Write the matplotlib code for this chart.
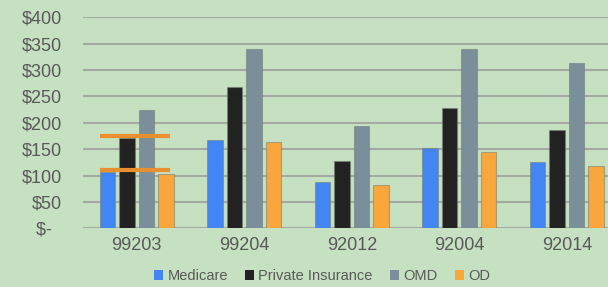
import matplotlib
matplotlib.use("Agg")
import matplotlib.pyplot as plt
import numpy as np
from matplotlib.patches import Patch

codes = ["99203", "99204", "92012", "92004", "92014"]
series = ["Medicare", "Private Insurance", "OMD", "OD"]
medicare = [107, 168, 87, 152, 126]
private_ins = [171, 267, 127, 228, 186]
omd = [224, 339, 194, 339, 313]
od = [103, 164, 83, 144, 119]
ref_lines_99203 = [175, 110]
yticks = [0, 50, 100, 150, 200, 250, 300, 350, 400]
ytick_labels = ["$-  ", "$50", "$100", "$150", "$200", "$250", "$300", "$350", "$400"]

colors = ["#4285f4", "#222222", "#7a8f9a", "#f9a63c"]
bg = "#c6e1c1"
text_col = "#595959"

plt.rcParams["font.family"] = ["Liberation Sans", "DejaVu Sans"]

fig = plt.figure(figsize=(6.08, 2.87), dpi=100, facecolor=bg)
ax = fig.add_axes([83/608, 1-228.3/287, 1-83/608, (228.3-17.3)/287])
ax.set_facecolor(bg)

x = np.arange(len(codes))
pitch = 0.181
width = 0.144
data = [medicare, private_ins, omd, od]
for i, (vals, c) in enumerate(zip(data, colors)):
    ax.bar(x + (i - 1.5) * pitch, vals, width, color=c, zorder=3,
           edgecolor=(0.45, 0.5, 0.45, 0.55), linewidth=0.8)

x0 = x[0] - 1.5 * pitch - width / 2
x1 = x[0] + 1.5 * pitch + width / 4
for v in ref_lines_99203:
    ax.plot([x0, x1], [v, v], color="#e8902f", lw=3, zorder=4, solid_capstyle="butt")

ax.set_ylim(0, 400)
ax.set_xlim(-0.5, (608 - 136.8) / 107.5)
ax.set_yticks(yticks)
ax.set_yticklabels(ytick_labels)
ax.set_xticks(x)
ax.set_xticklabels(codes)
ax.yaxis.grid(True, color="#a2aaa2", lw=1.5, zorder=0)
ax.set_axisbelow(True)
for s in ax.spines.values():
    s.set_visible(False)
ax.tick_params(axis="y", length=0, pad=15, labelsize=13, labelcolor=text_col)
ax.tick_params(axis="x", length=0, pad=6, labelsize=13, labelcolor=text_col)

handles = [Patch(facecolor=c, edgecolor="none") for c in colors]
fig.legend(handles, series, loc="center", bbox_to_anchor=(0.53, 0.038), ncol=4,
           frameon=False, fontsize=10.5, labelcolor=text_col, handlelength=0.6,
           handleheight=0.6, handletextpad=0.3, columnspacing=1.2, borderpad=0)

fig.savefig("out.png", dpi=100, facecolor=bg)
